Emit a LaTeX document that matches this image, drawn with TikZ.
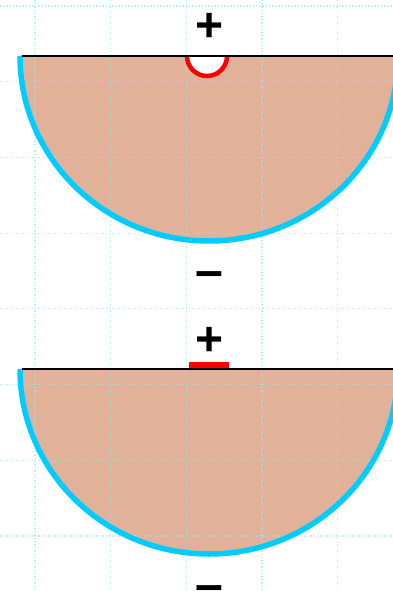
\documentclass[tikz,border=0pt]{standalone}
\usepackage{fontspec}
\setmainfont{Liberation Sans}
\definecolor{gridc}{RGB}{150,235,240}
\definecolor{skin}{RGB}{226,177,153}
\definecolor{rim}{RGB}{0,204,255}
\definecolor{pole}{RGB}{255,0,0}
\tikzset{
  gridline/.style={gridc, dotted, line width=1.2pt},
  body/.style={fill=skin},
  rimline/.style={rim, line width=5.5pt},
  surface/.style={black, line width=1.6pt},
  poleline/.style={pole, line width=4.5pt},
  sign/.style={inner sep=0pt, font=\bfseries\fontsize{48}{48}\selectfont},
  msign/.style={inner sep=0pt, font=\bfseries\fontsize{50}{50}\selectfont}
}
\begin{document}
\begin{tikzpicture}[x=1pt,y=-1pt]
\useasboundingbox (0,0) rectangle (393,591);
\clip (0,0) rectangle (393,591);
% top semicircle
\fill[body] (20,56) arc[start angle=180,end angle=0,x radius=189,y radius=185] -- cycle;
% bottom semicircle
\fill[body] (20,369) arc[start angle=180,end angle=0,x radius=189,y radius=185] -- cycle;
% grid
\foreach \gx in {35,110.7,186.3,262,337.7} \draw[gridline,opacity=0.7] (\gx,0) -- (\gx,591);
\foreach \gy in {6,81.7,157.4,233.1,308.8,384.5,460.2,535.9} \draw[gridline,opacity=0.7] (0,\gy) -- (393,\gy);
% top
\fill[white] (187,56) arc[start angle=180,end angle=0,radius=20] -- cycle;
\draw[poleline] (187,56) arc[start angle=180,end angle=0,radius=20];
\draw[rimline] (20,56) arc[start angle=180,end angle=0,x radius=189,y radius=185];
\draw[surface] (22,56) -- (393,56);
% bottom
\draw[rimline] (20,369) arc[start angle=180,end angle=0,x radius=189,y radius=185];
\fill[pole] (189,362) rectangle (229,368);
\draw[surface] (22,369) -- (393,369);
% signs
\node[sign] (p1) at (210,27.5) {+};
\node[msign] (m1) at (209,280) {–};
\node[sign] (p2) at (210,341) {+};
\node[msign] (m2) at (209,594) {–};
\end{tikzpicture}
\end{document}
